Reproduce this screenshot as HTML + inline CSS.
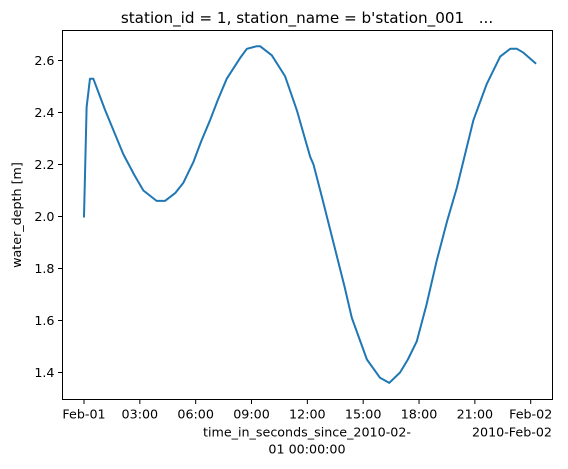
<!DOCTYPE html>
<html><head><meta charset="utf-8"><style>
body{margin:0;background:#fff;}
svg{display:block;font-family:"DejaVu Sans","Liberation Sans",sans-serif;}
</style></head><body>
<svg width="568" height="469" viewBox="0 0 568 469">
<g id="ax"></g>
</svg>
<script>
const hours = [0,0.14,0.32,0.5,1.13,2.11,2.7,3.19,3.9,4.35,4.9,5.34,5.88,6.3,6.77,7.2,7.67,8.39,8.75,9.28,9.46,10.09,10.8,11.43,12.15,12.33,12.8,13.4,14.0,14.39,15.2,15.9,16.4,16.98,17.4,17.88,18.4,18.95,19.5,20.03,20.92,21.64,22.36,22.9,23.26,23.61,24.25];
const depth = [2.00,2.42,2.53,2.53,2.41,2.24,2.16,2.10,2.06,2.06,2.09,2.13,2.21,2.29,2.37,2.45,2.53,2.61,2.645,2.655,2.655,2.62,2.54,2.41,2.23,2.20,2.07,1.90,1.73,1.61,1.45,1.38,1.36,1.40,1.45,1.52,1.66,1.83,1.98,2.11,2.37,2.51,2.615,2.645,2.645,2.63,2.59];
const xTicks = [0,3,6,9,12,15,18,21,24];
const xTickLabels = ["Feb-01","03:00","06:00","09:00","12:00","15:00","18:00","21:00","Feb-02"];
const yTicks = [1.4,1.6,1.8,2.0,2.2,2.4,2.6];

const L=62.5,R=552.5,T=30.5,B=399.5;
const xs=h=>84+h*(446.7/24);
const ys=v=>372.5-(v-1.4)*(312/1.2);
const NS="http://www.w3.org/2000/svg";
const g=document.getElementById('ax');
function mk(t,a,txt){const e=document.createElementNS(NS,t);for(const k in a)e.setAttribute(k,a[k]);if(txt!==undefined)e.textContent=txt;g.appendChild(e);return e;}

let d=hours.map((h,i)=>(i?'L':'M')+xs(h).toFixed(2)+','+ys(depth[i]).toFixed(2)).join(' ');
const line=mk('path',{d:d,fill:'none',stroke:'#1f77b4','stroke-width':2,'stroke-linejoin':'round','stroke-linecap':'square'});



const fr=mk('rect',{x:L,y:T,width:R-L,height:B-T,fill:'none',stroke:'#000','stroke-width':1});



const FS=12.7;
xTicks.forEach((h,i)=>{
  const x=xs(h);
  mk('line',{x1:x,x2:x,y1:B,y2:B+4.5,stroke:'#000','stroke-width':1});
  const t=mk('text',{x:x,y:B+19,'font-size':FS,'text-anchor':'middle',fill:'#000'},xTickLabels[i]);
  
  
});
yTicks.forEach(v=>{
  const y=ys(v);
  mk('line',{x1:L,x2:L-4.5,y1:y,y2:y,stroke:'#000','stroke-width':1});
  const t=mk('text',{x:L-8,y:y+4.6,'font-size':FS,'text-anchor':'end',fill:'#000'},v.toFixed(1));
  
  
});
let t;
t=mk('text',{x:552,y:B+37,'font-size':FS,'text-anchor':'end'},'2010-Feb-02');


t=mk('text',{x:307,y:B+37,'font-size':FS,'text-anchor':'middle'},'time_in_seconds_since_2010-02-');


t=mk('text',{x:307,y:B+54,'font-size':FS,'text-anchor':'middle'},'01 00:00:00');


t=mk('text',{x:0,y:0,'font-size':FS,'text-anchor':'middle',transform:'translate(21,215) rotate(-90)'},'water_depth [m]');


t=mk('text',{x:307,y:23,'font-size':15.2,'text-anchor':'middle',style:'white-space:pre'},"station_id = 1, station_name = b'station_001   ...");


</script>
</body></html>
